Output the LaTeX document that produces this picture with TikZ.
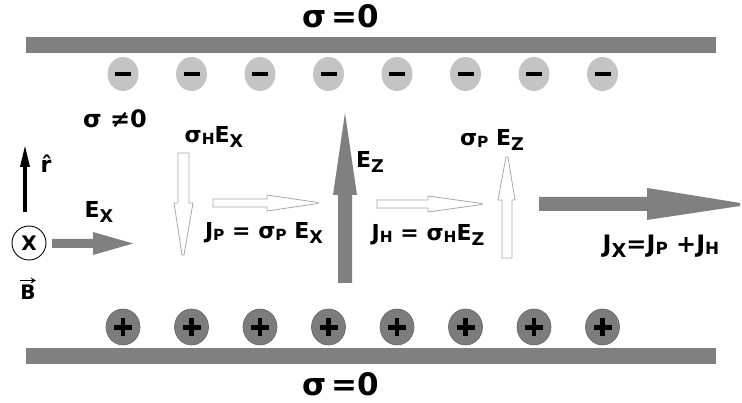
\documentclass[tikz,border=0pt]{standalone}
\usepackage{fontspec}
\setmainfont{DejaVu Sans}
\usetikzlibrary{arrows.meta}
\definecolor{bargray}{HTML}{808080}
\definecolor{lightdot}{HTML}{C4C4C4}
\definecolor{darkdot}{HTML}{7C7C7C}
\definecolor{outl}{HTML}{A8A8A8}
\newcommand\lsub[1]{\raisebox{-0.2em}{\scalebox{0.8}{#1}}}
\newcommand\ssub[1]{\raisebox{-0.08em}{\scalebox{0.7}{#1}}}
\tikzset{
  lbl/.style={font=\bfseries\fontsize{22}{24}\selectfont, inner sep=0pt},
  biglbl/.style={font=\bfseries\fontsize{31}{34}\selectfont, inner sep=0pt},
  bar/.style={fill=bargray},
  fatarrow/.style={fill=bargray, draw=none},
  hollowarrow/.style={fill=white, draw=outl, line width=0.8pt},
  plusdot/.style={fill=darkdot, draw=darkdot!80!black, line width=0.6pt}
}
\begin{document}
\begin{tikzpicture}[x=1pt,y=-1pt]
\useasboundingbox (0,0) rectangle (742,403);
\fill[white] (0,0) rectangle (742,403);
% plates
\fill[bar] (26,37) rectangle (716,53);
\fill[bar] (26,348) rectangle (716,364);
\node[biglbl] (sigtop) at (341,16) {σ\,=0};
\node[biglbl] (sigbot) at (341,384) {σ\,=0};
% charges
\foreach \i in {0,...,7}{
  \pgfmathsetmacro\cx{123+68.5*\i}
  \fill[lightdot] (\cx,74) ellipse [x radius=15.5, y radius=17];
  \fill[black] (\cx-8,72) rectangle (\cx+8,76.5);
  \filldraw[plusdot] (\cx,327) ellipse [x radius=17, y radius=18];
  \fill[black] (\cx-9,324.8) rectangle (\cx+9,329.6);
  \fill[black] (\cx-2.4,318) rectangle (\cx+2.4,336);
}
% labels
\node[lbl, font=\bfseries\fontsize{24}{26}\selectfont] (signe) at (115,119) {σ ≠0};
\node[lbl] (rhat) at (46,164) {\^{r}};
\node[circle, draw, line width=0.9pt, minimum size=34pt, inner sep=0pt, font=\bfseries\fontsize{20}{22}\selectfont] (bx) at (29,243) {X};
\node[lbl, font=\bfseries\fontsize{20}{22}\selectfont] (bvec) at (28,292) {B};
\draw[line width=1.1pt, -{Stealth[length=5pt,width=6pt]}] ([yshift=4pt]bvec.north west) -- ([yshift=4pt]bvec.north east);
\coordinate (rtail) at (25,212);
\coordinate (rtip) at (25,145);
\draw[line width=3.2pt, -{Triangle[length=22pt,width=9pt]}] (rtail) -- (rtip);
\node[lbl] (exl) at (99,212) {E\lsub{X}};
\node[lbl] (shex) at (214,137) {σ\ssub{H}E\lsub{X}};
\node[lbl] (jpl) at (264,233) {J\ssub{P} = σ\ssub{P} E\lsub{X}};
\node[lbl] (ezl) at (370,162) {E\lsub{Z}};
\node[lbl] (jhl) at (428,235) {J\ssub{H} = σ\ssub{H}E\lsub{Z}};
\node[lbl] (spez) at (492,140) {σ\ssub{P} E\lsub{Z}};
\node[lbl, font=\bfseries\fontsize{24}{26}\selectfont] (jxl) at (661,246) {J\lsub{X}=J\ssub{P} +J\ssub{H}};
% E_x arrow
\fill[fatarrow] (52,239) -- (93,239) -- (93,232) -- (133,243.5) -- (93,255) -- (93,248) -- (52,248) -- cycle;
% E_z arrow
\fill[fatarrow] (338,283) -- (338,195) -- (333,195) -- (345,113) -- (357,195) -- (352,195) -- (352,283) -- cycle;
% J_x arrow
\fill[fatarrow] (539,197) -- (647,197) -- (647,188) -- (660,190) -- (740,203) -- (740,206) -- (660,218) -- (647,220) -- (647,211) -- (539,211) -- cycle;
% sigma_H E_x down
\draw[hollowarrow] (178,153) -- (189,153) -- (189,203) -- (193,203) -- (184,255) -- (182,255) -- (174,203) -- (178,203) -- cycle;
% J_P right
\draw[hollowarrow] (213,199) -- (267,199) -- (267,195) -- (318,202.5) -- (318,203.5) -- (267,211) -- (267,207) -- (213,207) -- cycle;
% J_H right
\draw[hollowarrow] (377,200) -- (428,200) -- (428,196) -- (482,203.5) -- (482,204.5) -- (428,212) -- (428,208) -- (377,208) -- cycle;
% sigma_P E_z up
\draw[hollowarrow] (502,258) -- (502,200) -- (498,200) -- (506,157) -- (508,157) -- (515,200) -- (512,200) -- (512,258) -- cycle;
\end{tikzpicture}
\end{document}
